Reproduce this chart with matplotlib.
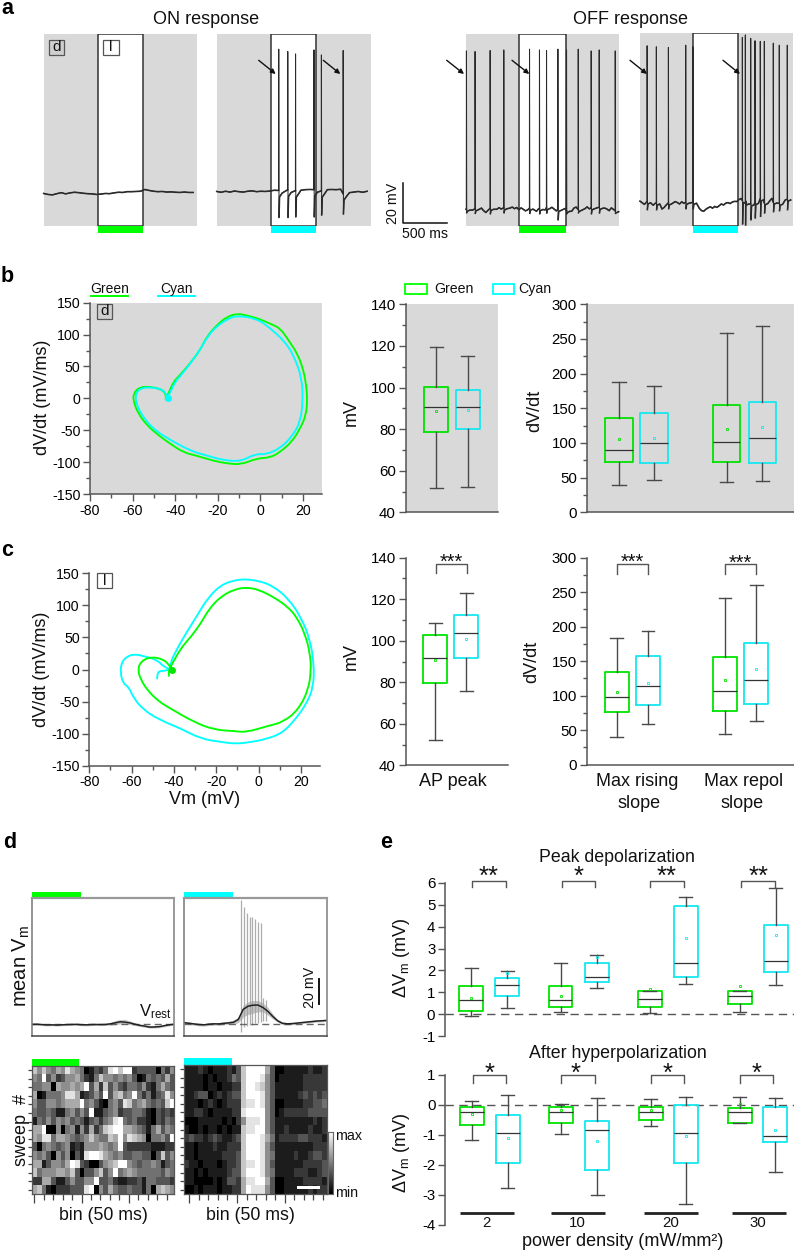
import numpy as np
import matplotlib
matplotlib.use("Agg")
import matplotlib.pyplot as plt
from matplotlib.patches import Rectangle, PathPatch
from matplotlib.path import Path

plt.rcParams['font.family'] = ['Liberation Sans', 'DejaVu Sans']
plt.rcParams['mathtext.default'] = 'regular'
plt.rcParams['axes.unicode_minus'] = False

W, H = 794, 1250
GRAY = '#d9d9d9'
GREEN = '#00e400'
CYAN = '#14e8f0'
BAR_GREEN = '#00ff00'
BAR_CYAN = '#00ffff'
SPINE = '#555555'

# ============================================================
# Panel a: traces (mV above panel floor, 25 or 50 ms steps)
# ============================================================
a1_base = [16.1, 15.6, 15.4, 16, 16.5, 15.9, 16.4, 16.7, 16.5, 16.2, 16, 15.9, 15.6, 15.8, 16.1, 16, 16.4, 16.7,
           16.6, 17, 17, 17.1, 17.2, 18.1, 17.6, 17.2, 17, 17.1, 16.8, 16.9, 16.7, 16.6, 16.8, 16.6, 16.6]
a2_base = [17.1, 16.7, 17.2, 16.8, 17.3, 17, 16.8, 17.2, 17.4, 17, 17.2, 17.1, 17.3, 17.7, 17.6, 17.4, 17.9, 17.5,
           17.5, 17.7, 18, 18.1, 18, 18, 17.4, 18, 18.1, 18, 18.2, 16, 16.5, 16.8, 17.1, 16.7, 17.2]
a3_base = [8.2, 7.6, 8.6, 7.8, 8.4, 7.1, 7.9, 8.8, 7.5, 6.6,
           7.7, 8.6, 7.9, 8.5, 8.2, 9.0, 8.3, 8.9, 8.6, 9.2,
           8.8, 9.3, 8.5, 9.1, 8.0, 8.9, 8.2, 7.4, 7.9, 8.7,
           7.6, 8.3, 7.2, 8.5, 8.9, 8.2, 7.9, 9.0, 8.4, 9.2,
           8.3, 7.4, 8.1, 6.6, 7.3, 8.6, 7.6, 8.9, 7.2, 8.8,
           9.3, 8.1, 8.7, 7.3, 8.5, 9.4, 8.4, 8.9, 7.9, 8.6,
           9.1, 8.2, 7.4, 8.8, 8.3, 7.5, 8.9, 8.1, 7.4, 8.0]
a4_base = [12.2, 11.4, 10.6, 11.8, 10.4, 9.6, 10.2, 11.2, 10.1, 9.2, 8.3, 9.1, 10.4, 11.3, 11.9, 11.2, 12, 11.5,
           10.8, 11.9, 11.1, 11.6, 10.9, 11.8, 11.6, 10.5, 9.4, 8.6, 7.5, 7.2, 8.2, 8.9, 9.4, 8.7, 9.6, 9.1,
           9.9, 10.8, 10.3, 11.2, 11.5, 11, 11.8, 12.1, 12, 13, 13.5, 12.6, 11.2, 12.4, 10.8, 12.8, 11.5, 13.1,
           11.9, 13.3, 12.2, 11.4, 13, 12.3, 13.6, 11.7, 12.6, 11.1, 12.2, 10.9, 12.7, 13.2, 12.1, 13.4]

a2_spike_t = [700, 802, 890, 1098, 1182, 1428]
a2_spike_top = [88.2, 87, 85.8, 87.8, 85.3, 87.5]
a2_spike_bot = [4.2, 4.2, 4.5, 4.5, 5.4, 5.9]
a3_spike_t = [4, 102, 273, 428, 720, 833, 913, 1042, 1140, 1273, 1420, 1511, 1693]
a3_spike_top = [87.3, 87, 87.5, 87.8, 88.2, 87.8, 87.5, 88.2, 87.8, 88.2, 87.3, 87.8, 87.3]
a3_spike_bot = [6.5, 6.2, 6, 6.5, 6.2, 6, 6.4, 3, 6, 6.5, 6, 6.4, 6.2]
a4_spike_t = [80, 185, 322, 519, 602, 1163, 1197, 1258, 1307, 1367, 1413, 1515, 1583, 1674]
a4_spike_top = [89.5, 89, 88.7, 89.8, 89, 93.7, 94.9, 93.2, 92, 91.7, 91.7, 90.8, 89.8, 89.8]
a4_spike_bot = [8, 8, 8.5, 8.5, 8.5, 0.9, 0.4, 3, 3.9, 4.7, 6.4, 7, 7.5, 8]

# ============================================================
# Phase plots: Vm (mV), dV/dt (mV/ms)
# ============================================================
b_green_v = [-44.4, -43.1, -40.8, -38.4, -32.9, -28.2, -25.1, -20.4, -15.7, -10.7, -6.3, -0.8, 4.7, 9.4, 13.3, 17.3,
             20.1, 21.6, 22.1, 21.5, 18.8, 14.9, 9.4, 4.7, -1.6, -9.1, -15.7, -22, -29.8, -36, -42.4, -47.8, -53.3,
             -57.3, -59.6, -59.6, -56.5, -51.8, -47, -44.4, -44.4]
b_green_dv = [0, 7.8, 26, 34, 55, 76, 97, 115, 128, 133, 130, 125, 117, 110, 91, 71, 47, 21, -3, -26, -47, -68, -84,
              -93, -94, -104, -102, -98, -90, -85, -71, -58, -42, -24, -5, 8, 18, 18, 15, 8, -3]
b_cyan_v = [-44, -42.5, -40, -38, -33, -28.5, -25, -20.5, -15.5, -11, -1.6, 4.7, 11, 15.7, 19.6, 20, 18.8, 14.9, 9.4,
            3, -2.4, -9.1, -17.3, -25, -33, -42.4, -48.6, -53.3, -56.5, -58.5, -58.5, -55.7, -50, -45.5, -44, -44]
b_cyan_dv = [0, 8, 26, 33, 54, 75, 96, 113, 124, 130, 125, 110, 91, 68, 31, -5, -37, -60, -78, -88, -87, -99, -97,
             -90, -82, -65, -52, -37, -21, -5, 8, 17, 17, 13, 5, -3]
c_cyan_v = [-48, -47.6, -44, -41.6, -41.6, -38.4, -34.4, -28.9, -24.1, -17.8, -11.4, -6.7, 0.5, 6.8, 14, 20.3, 24.3,
            26.2, 25.9, 22.7, 17.1, 10.8, 2.9, -3.5, -10.6, -17.8, -27.3, -36.8, -47.1, -54.3, -59, -61.4, -64,
            -65.4, -64.6, -62.2, -59, -54.3, -47.9, -44.8, -41.6]
c_cyan_dv = [-15, -2.6, -2, 0.5, 12, 33, 56, 85, 111, 132, 139, 141, 138, 130, 111, 80, 46, 9, -27, -53, -79, -100,
             -109, -113, -116, -113, -108, -92, -78, -63, -45, -27, -22, -4, 12, 20, 24, 21, 15, 4, 0.5]
c_green_v = [-42.4, -42.4, -40.8, -36.8, -32, -27.3, -23.3, -17.8, -11.4, -5.9, -0.3, 7.6, 14, 17.9, 21.9, 24.3, 24.8,
             23.5, 18.7, 11.6, 4.4, -5.9, -11.4, -21, -30.5, -41.6, -47.1, -52.7, -55.9, -57, -55.9, -51.1, -44.8,
             -41.6, -40.8]
c_green_dv = [-11, 0, 9, 33, 51, 72, 95, 114, 125, 128, 125, 112, 97, 82, 56, 25, -1, -32, -63, -82, -88, -98, -96,
              -94, -82, -61, -50, -32, -14, -1, 12, 20, 16, 4, 0]

# ============================================================
# Box values: low whisker, q1, median, q3, high whisker, mean
# ============================================================
b_peak_green = [[51.5, 78.5, 90.5, 100.4, 119.6, 88.5]]
b_peak_cyan = [[52, 79.9, 90.5, 98.7, 115.3, 89]]
b_slope_green = [[39.4, 73, 90.4, 136, 188.5, 105.8], [43, 72, 101, 155, 259, 120.7]]
b_slope_cyan = [[47, 71.6, 99.5, 142.8, 182, 106.7], [45, 71, 107.7, 159.6, 268.8, 122.6]]
c_peak_green = [[52, 79.8, 91.8, 102.9, 108.4, 90.6]]
c_peak_cyan = [[75.6, 91.5, 103.9, 112.6, 122.8, 100.7]]
c_slope_green = [[40.6, 75.8, 97.6, 135, 184, 104.8], [44.4, 77.8, 106.3, 156.5, 242, 123.2]]
c_slope_cyan = [[58.5, 86, 113.5, 157.5, 194, 117.9], [62.8, 87.4, 122.2, 176.8, 260, 138.6]]
e_peak_green = [[-0.09, 0.15, 0.66, 1.3, 2.13, 0.76], [0.11, 0.34, 0.66, 1.31, 2.33, 0.84],
                [0.05, 0.34, 0.7, 1.07, 1.08, 1.13], [0.11, 0.46, 0.81, 1.07, 1.08, 1.3]]
e_peak_cyan = [[0.29, 0.81, 1.34, 1.66, 1.97, 1.89], [1.2, 1.45, 1.72, 2.33, 2.7, 2.62],
               [1.36, 1.68, 2.35, 4.97, 5.37, 3.5], [1.34, 1.94, 2.44, 4.07, 5.75, 3.64]]
e_ahp_green = [[-1.16, -0.66, -0.25, -0.07, 0.11, -0.3], [-0.96, -0.62, -0.25, -0.07, 0.01, -0.18],
               [-0.69, -0.52, -0.25, -0.07, 0.19, -0.16], [-0.61, -0.61, -0.23, -0.1, 0.27, 0.02]]
e_ahp_cyan = [[-2.78, -1.93, -0.93, -0.33, 0.32, -1.12], [-3.01, -2.17, -0.83, -0.55, 0.24, -1.2],
              [-3.3, -1.95, -0.95, 0, 0.27, -1.03], [-2.24, -1.23, -1.03, -0.06, 0.22, -0.83]]
power_labels = ['2', '10', '20', '30']

# ============================================================
# Panel d: mean Vm (mV, 50 ms bins) and sweep heatmaps (0-9)
# ============================================================
d1_mean = [9.2, 9.3, 9.0, 8.7, 8.8, 8.6, 8.8, 9.0, 9.1, 9.2, 8.9, 8.8, 9.0, 9.1, 9.0, 9.1, 9.6, 10.4, 11.2, 10.9,
           10.3, 9.3, 8.4, 7.8, 7.0, 7.1, 7.4, 8.1, 8.8, 9.3]
d1_upper = [10.0, 9.8, 9.5, 9.4, 9.4, 9.3, 9.3, 9.7, 9.9, 9.8, 9.6, 9.5, 9.9, 9.7, 9.6, 9.9, 10.7, 12.2, 13, 13.1,
            11.8, 10.3, 9.3, 8.8, 8.2, 8.4, 8.3, 8.8, 9.5, 10]
d1_lower = [8.5, 8.6, 8.2, 8, 8.1, 7.9, 8.1, 8.2, 8.4, 8.4, 8.2, 8, 8.2, 8.3, 8.3, 8.3, 8.5, 9, 9.6, 9.4,
            9, 8.3, 7.5, 7, 6.3, 6.3, 6.5, 7.3, 8, 8.6]
d2_mean = [10.5, 10, 9.5, 9, 8.8, 9.3, 9.6, 9.5, 10, 10.3, 10.8, 13, 21, 23.5, 24.3, 24.4, 22.5, 19.5, 15.5, 12,
           10, 9.6, 9.8, 10.2, 10.6, 11, 11.4, 11.8, 12, 12.3]
d2_upper = [11.5, 11, 10.5, 10, 9.8, 10.3, 10.6, 10.5, 11, 11.6, 12.5, 15, 24, 27, 28, 28, 26, 22.5, 17.5, 13,
            11, 10.5, 10.6, 11, 11.4, 11.8, 12.2, 12.6, 12.8, 13]
d2_lower = [9.5, 9, 8.5, 8, 7.8, 8.3, 8.6, 8.5, 9, 9.2, 9.5, 10.5, 15, 17, 18, 19, 19, 16.5, 13.5, 11,
            9, 8.7, 9, 9.4, 9.8, 10.2, 10.6, 11, 11.2, 11.6]
d2_spike_t = [582, 609, 637, 664, 694, 722, 749, 776, 805, 835]
d2_spike_top = [107, 102, 96.6, 93.4, 93.4, 91.9, 90, 88.7, 30, 28]
d2_spike_bot = [3, 7, 8, 9, 9, 10, 10, 11, 12, 12]
v_rest = 9.8

heat_green = ["757546586540132489799233330425", "549352355642147554545301434363",
              "445506556569362735324435214643", "601444588612353936745942413485",
              "533554566694531045387456434379", "433431145353911345233443103232",
              "143535453431342458943422103243", "669005045152624789966543146354",
              "658846654345754476958765044539", "304543451215556545932222211122",
              "545305350318998654533443303735", "661355469832003567995434454134",
              "745556657303357359456544444354", "226631135335593342112231443332",
              "674102223338905364334331406765"]
heat_cyan = ["111210111213799996300111112112", "111101011243799985301111122222",
             "111101101122799875311111122222", "112330121233799985311111232323",
             "111012101222788985300111122334", "112210111122899995301222223333",
             "000111110102588895311111111212", "100101101011788995311211112112",
             "232212321123799986412222332221", "110111211222799985311111111222",
             "110111112223799985411112112332", "211011101223788985311111122223",
             "110101111233799985411112221123", "110000101332688996300111122221",
             "001011101122698885300111112122"]


def px_axes(x0, y0, x1, y1):
    return fig.add_axes([x0 / W, 1 - y1 / H, (x1 - x0) / W, (y1 - y0) / H])


def with_spikes(base, step, spike_t, tops, bots, ahp):
    # put the spikes on a baseline, with a small after-dip behind each one
    t = np.arange(len(base)) * step
    v = np.array(base, dtype=float)
    keep = np.ones(len(t), bool)
    for s in spike_t:
        keep &= ~((t > s) & (t < s + 60))
    ts, vs = list(t[keep]), list(v[keep])
    for s, top, bot in zip(spike_t, tops, bots):
        level = v[np.argmin(np.abs(t - s))]
        ts += [s - 0.5, s + 1, s + 4, s + 10, s + 40]
        vs += [level, top, bot, level - ahp, level - ahp * 0.4]
    order = np.argsort(ts)
    return np.array(ts)[order], np.array(vs)[order]


def trace_panel(x0, y0, x1, y1, light, bar_color, t, v):
    ax = px_axes(x0, y0, x1, y1)
    ax.set_xlim(0, 1740)
    ax.set_ylim(0, 96)
    ax.axis('off')
    ax.axvspan(0, 1740, color=GRAY, lw=0, zorder=0)
    ax.axvspan(light[0], light[1], facecolor='white', edgecolor='#333333', lw=1.1, zorder=1)
    ax.axvspan(light[0], light[1], ymin=-0.04, ymax=0, color=bar_color, lw=0, clip_on=False, zorder=1)
    ax.plot(t, v, color='#2a2a2a', lw=0.75, zorder=3, clip_on=False)
    ax.plot(t, np.ma.masked_greater(v, 40), color='#2a2a2a', lw=1.15, zorder=3, clip_on=False)
    return ax


def style_axes(ax, ymajor, yminor, fs):
    for side in ['top', 'right']:
        ax.spines[side].set_visible(False)
    for side in ['left', 'bottom']:
        ax.spines[side].set_color(SPINE)
        ax.spines[side].set_linewidth(1.1)
    ax.set_yticks(ymajor)
    if yminor is not None:
        ax.set_yticks(yminor, minor=True)
    ax.tick_params(axis='y', which='major', length=5, width=1, color=SPINE, labelsize=fs, pad=2)
    ax.tick_params(axis='y', which='minor', length=3, width=1, color=SPINE)
    ax.set_xticks([])


def loop_patch(v, dv, col):
    # rounded loop: the read points act as quadratic control points
    pts = np.column_stack([v, dv])
    mids = (pts[:-1] + pts[1:]) / 2
    verts = [pts[0]]
    codes = [Path.MOVETO]
    for ctrl, end in zip(pts[:-1], mids):
        verts += [ctrl, end]
        codes += [Path.CURVE3, Path.CURVE3]
    verts.append(pts[-1])
    codes.append(Path.LINETO)
    return PathPatch(Path(verts, codes), fill=False, edgecolor=col, lw=1.35)


def phase_panel(box, gray_bg, curves, dots):
    ax = px_axes(*box)
    ax.set_xlim(-80, 29)
    ax.set_ylim(-150, 150)
    style_axes(ax, np.arange(-150, 151, 50), np.arange(-125, 150, 50), 10.2)
    ax.set_xticks(np.arange(-80, 21, 20))
    ax.set_xticks(np.arange(-70, 30, 20), minor=True)
    ax.tick_params(axis='x', which='major', length=5, width=1, color=SPINE, labelsize=10.2, pad=2)
    ax.tick_params(axis='x', which='minor', length=3, width=1, color=SPINE)
    if gray_bg:
        ax.set_facecolor(GRAY)
    else:
        ax.patch.set_alpha(0)
    for v, dv, col in curves:
        ax.add_patch(loop_patch(v, dv, col))
    for v, dv, col in dots:
        ax.plot(v, dv, 'o', color=col, ms=5, mew=0)
    return ax


def draw_boxes(ax, values, positions, width, color, cap):
    stats = [dict(whislo=r[0], q1=r[1], med=r[2], q3=r[3], whishi=r[4], mean=r[5], fliers=[]) for r in values]
    ax.bxp(stats, positions=positions, widths=width, showfliers=False, showmeans=True, manage_ticks=False,
           capwidths=cap,
           boxprops=dict(color=color, lw=1.3),
           medianprops=dict(color='#333333', lw=0.9),
           whiskerprops=dict(color='#4a4a4a', lw=1.0),
           capprops=dict(color='#4a4a4a', lw=1.0),
           meanprops=dict(marker='s', ms=2.0, mfc='none', mec=color, mew=0.6))


def box_panel(box, xlim, ylim, ymajor, yminor, gray_bg):
    ax = px_axes(*box)
    ax.set_xlim(*xlim)
    ax.set_ylim(*ylim)
    style_axes(ax, ymajor, yminor, 10.8)
    if gray_bg:
        ax.set_facecolor(GRAY)
    else:
        ax.patch.set_alpha(0)
    return ax


def bracket(ax, x0, x1, y_top, y_bot):
    ax.plot([x0, x0, x1, x1], [y_bot, y_top, y_top, y_bot], color='#555555', lw=1.0, clip_on=False)


fig = plt.figure(figsize=(W / 100, H / 100), dpi=100)

# ---- panel a
t1 = np.arange(len(a1_base)) * 50
trace_panel(43.7, 33.5, 196.7, 225.7, (614, 1125), BAR_GREEN, t1, np.array(a1_base))
t2, v2 = with_spikes(a2_base, 50, a2_spike_t, a2_spike_top, a2_spike_bot, 3.2)
trace_panel(216.7, 33.5, 370.7, 225.7, (614, 1125), BAR_CYAN, t2, v2)
t3, v3 = with_spikes(a3_base, 25, a3_spike_t, a3_spike_top, a3_spike_bot, 1.0)
trace_panel(466, 33.5, 619.3, 225.7, (606, 1130), BAR_GREEN, t3, v3)
t4, v4 = with_spikes(a4_base, 25, a4_spike_t, a4_spike_top, a4_spike_bot, 1.0)
trace_panel(640, 32.7, 793, 225.7, (602, 1118), BAR_CYAN, t4, v4)

# ---- panels b, c phase plots
phase_panel((90, 302.7, 322, 494), True,
            [(b_green_v, b_green_dv, BAR_GREEN), (b_cyan_v, b_cyan_dv, BAR_CYAN)],
            [(-43.5, 0, BAR_CYAN)])
phase_panel((89.3, 573.3, 320, 765.7), False,
            [(c_cyan_v, c_cyan_dv, BAR_CYAN), (c_green_v, c_green_dv, BAR_GREEN)],
            [(-41, 0, GREEN)])

# ---- panels b, c boxes
ax = box_panel((405.7, 304.3, 497.7, 512.3), (0.02, 2.96), (40, 140), np.arange(40, 141, 20), np.arange(50, 140, 20), True)
draw_boxes(ax, b_peak_green, [1], 0.77, GREEN, 0.4)
draw_boxes(ax, b_peak_cyan, [2], 0.77, CYAN, 0.4)

ax = box_panel((586.7, 304.3, 794, 512.3), (0.076, 6), (0, 300), np.arange(0, 301, 50), np.arange(25, 300, 50), True)
draw_boxes(ax, b_slope_green, [1, 4.08], 0.78, GREEN, 0.38)
draw_boxes(ax, b_slope_cyan, [2, 5.09], 0.78, CYAN, 0.38)

ax = box_panel((405.7, 557.7, 507.7, 765.3), (0.043, 3.33), (40, 140), np.arange(40, 141, 20), np.arange(50, 140, 20), False)
draw_boxes(ax, c_peak_green, [1], 0.77, GREEN, 0.4)
draw_boxes(ax, c_peak_cyan, [2], 0.77, CYAN, 0.4)
bracket(ax, 1.02, 2.02, 136.8, 132.5)

ax = box_panel((586.7, 557.7, 794, 764.7), (0.043, 6.66), (0, 300), np.arange(0, 301, 50), np.arange(25, 300, 50), False)
draw_boxes(ax, c_slope_green, [1, 4.457], 0.77, GREEN, 0.4)
draw_boxes(ax, c_slope_cyan, [2, 5.457], 0.77, CYAN, 0.4)
bracket(ax, 1, 2, 290.8, 277)
bracket(ax, 4.457, 5.457, 290.8, 277)

# ---- panel d mean traces
t_bins = np.arange(30) * 50
for box, mean, up, lo, bar in [((32.3, 897.7, 174, 1036), d1_mean, d1_upper, d1_lower, BAR_GREEN),
                               ((184.3, 897.7, 326.7, 1036), d2_mean, d2_upper, d2_lower, BAR_CYAN)]:
    ax = px_axes(*box)
    ax.set_xlim(0, 1450)
    ax.set_ylim(0, 109)
    ax.set_xticks([])
    ax.set_yticks([])
    ax.spines['top'].set(color='#999999', linewidth=1.6)
    ax.spines['right'].set(color='#888888', linewidth=1.2)
    ax.spines['left'].set(color='#777777', linewidth=1.1)
    ax.spines['bottom'].set(color='#444444', linewidth=1.1)
    ax.axvspan(0, 500, ymin=1, ymax=1.044, color=bar, lw=0, clip_on=False)
    ax.fill_between(t_bins, lo, up, color='#c4c4c4', lw=0)
    if mean is d2_mean:
        ax.vlines(d2_spike_t, d2_spike_bot, d2_spike_top, color='#9e9e9e', lw=0.9, alpha=0.85)
    ax.axhline(v_rest, color='#666666', lw=1.0, ls=(0, (5, 3)))
    ax.plot(t_bins, mean, color='#222222', lw=1.1)

# ---- panel d heatmaps
for box, rows, offset, bar in [((31.7, 1066, 174, 1194.3), heat_green, 0, BAR_GREEN),
                               ((184.3, 1065, 327.3, 1194), heat_cyan, 0.55, BAR_CYAN)]:
    ax = px_axes(*box)
    img = np.array([[int(c) for c in r] for r in rows])
    ax.imshow(img, cmap='gray', vmin=0, vmax=9, aspect='auto', interpolation='nearest')
    for s in ax.spines.values():
        s.set(color='#555555', linewidth=0.9)
    ax.set_xticks(np.arange(0, 21, 10) + offset)
    ax.set_xticks(np.arange(0, 29, 2) + offset, minor=True)
    ax.set_yticks(np.arange(15))
    ax.tick_params(axis='x', which='major', length=6.5, width=0.9, color='#444444', labelbottom=False)
    ax.tick_params(axis='x', which='minor', length=4.2, width=0.9, color='#444444')
    ax.tick_params(axis='y', length=3, width=0.9, color='#444444', labelleft=False)
    ax.axvspan(-0.5, 9.5, ymin=1, ymax=1.055, color=bar, lw=0, clip_on=False)

cbar_ax = px_axes(328.3, 1131.7, 332.7, 1194.3)
cbar_ax.imshow(np.linspace(1, 0, 64)[:, None], cmap='gray', aspect='auto')
cbar_ax.set_xticks([])
cbar_ax.set_yticks([])
for s in cbar_ax.spines.values():
    s.set(color='#666666', linewidth=0.8)

# ---- panel e
e_top_pos_g = [1, 3.48, 5.96, 8.45]
e_top_pos_c = [2, 4.48, 6.96, 9.45]
ax = box_panel((445, 883, 794, 1036), (0.27, 9.96), (-1, 6), np.arange(-1, 7), None, False)
ax.spines['bottom'].set_visible(False)
ax.axhline(0, color='#555555', lw=1.0, ls=(0, (6, 4)))
draw_boxes(ax, e_peak_green, e_top_pos_g, 0.66, GREEN, 0.36)
draw_boxes(ax, e_peak_cyan, e_top_pos_c, 0.66, CYAN, 0.36)
for x0, x1 in [(1.02, 1.95), (3.51, 4.44), (5.95, 6.9), (8.5, 9.44)]:
    bracket(ax, x0, x1, 6.1, 5.82)

e_low_pos_g = [1, 3.48, 5.96, 8.44]
e_low_pos_c = [2, 4.48, 6.94, 9.42]
ax = box_panel((445.3, 1074.7, 794, 1225), (0.26, 9.94), (-4, 1), np.arange(-4, 2), None, False)
ax.spines['bottom'].set_visible(False)
ax.axhline(0, color='#555555', lw=1.0, ls=(0, (6, 4)))
draw_boxes(ax, e_ahp_green, e_low_pos_g, 0.66, GREEN, 0.36)
draw_boxes(ax, e_ahp_cyan, e_low_pos_c, 0.66, CYAN, 0.36)
for x0, x1 in [(1.02, 1.94), (3.46, 4.41), (5.96, 6.9), (8.44, 9.37)]:
    bracket(ax, x0, x1, 0.99, 0.74)
for x0, x1 in [(0.667, 2.167), (3.19, 4.69), (5.77, 7.27), (8.22, 9.72)]:
    ax.plot([x0, x1], [-3.6, -3.6], color='#222222', lw=2.0, solid_capstyle='butt')

# ============================================================
# Overlay in pixel coordinates: labels, boxes, arrows, scale bars
# ============================================================
ov = fig.add_axes([0, 0, 1, 1], zorder=20)
ov.set_xlim(0, W)
ov.set_ylim(H, 0)
ov.axis('off')


def label(x, y, s, size=12.8, **kw):
    kw.setdefault('color', '#111111')
    ov.text(x, y, s, fontsize=size, ha=kw.pop('ha', 'center'), va=kw.pop('va', 'center'), **kw)


def stars(x, y, s, size):
    # asterisks sit high in the em box, so place them by baseline
    ov.text(x, y + 0.47 * size * 100 / 72, s, fontsize=size, ha='center', va='baseline', color='#111111')


def tag(x0, y0, x1, y1, s, fill):
    ov.add_patch(Rectangle((x0, y0), x1 - x0, y1 - y0, facecolor=fill, edgecolor='#555555', lw=0.9))
    label((x0 + x1) / 2, (y0 + y1) / 2, s, 11)


for x, y, s in [(1, 8, 'a'), (1, 277, 'b'), (1, 550, 'c'), (3, 842, 'd'), (380, 842, 'e')]:
    label(x, y, s, 15.5, ha='left', fontweight='bold', color='black')

label(206, 20, 'ON response', 13)
label(630.7, 20, 'OFF response', 13)

tag(48.7, 40, 64.3, 54.7, 'd', '#cfcfcf')
tag(102.7, 40, 118.7, 54.7, 'l', 'white')
tag(96.7, 303.7, 111.7, 319, 'd', '#cfcfcf')
tag(96.7, 573, 112.3, 588.3, 'l', 'white')

for x0, x1 in [(258.7, 275.7), (323.3, 340.3), (446.7, 464), (512, 529.3), (630, 647), (723, 740)]:
    ov.annotate('', xy=(x1, 74), xytext=(x0, 60.3),
                arrowprops=dict(arrowstyle='-|>', color='#111111', lw=1.0, mutation_scale=7, shrinkA=0, shrinkB=0))

ov.plot([403.3, 403.3, 447.3], [183, 223.3, 223.3], color='#111111', lw=1.1)
label(393, 203, '20 mV', 10.3, rotation=90)
label(425.3, 233.5, '500 ms', 10.2)

# panel b legends
label(109.5, 289, 'Green', 10)
ov.plot([90.7, 128], [295.7, 295.7], color=BAR_GREEN, lw=1.4)
label(176.5, 289, 'Cyan', 10)
ov.plot([158, 194.7], [295.7, 295.7], color=BAR_CYAN, lw=1.4)
ov.add_patch(Rectangle((405, 284), 21.7, 9.7, facecolor='none', edgecolor=BAR_GREEN, lw=1.3))
label(434, 289, 'Green', 10.2, ha='left')
ov.add_patch(Rectangle((492.7, 284), 21.3, 9.7, facecolor='none', edgecolor=BAR_CYAN, lw=1.3))
label(518.7, 289, 'Cyan', 10.2, ha='left')

label(42.7, 397, 'dV/dt (mV/ms)', 13, rotation=90)
label(41.7, 669, 'dV/dt (mV/ms)', 13, rotation=90)
label(205, 799, 'Vm (mV)', 13)
label(351.7, 413, 'mV', 13, rotation=90)
label(351.7, 656.7, 'mV', 13, rotation=90)
label(534.3, 410.7, 'dV/dt', 13, rotation=90)
label(531.7, 661.7, 'dV/dt', 13, rotation=90)

label(453, 781.7, 'AP peak', 13)
label(636.7, 781.7, 'Max rising', 13)
label(639, 803, 'slope', 13)
label(744, 781.7, 'Max repol', 13)
label(742, 803, 'slope', 13)

stars(451.7, 558.3, '***', 14.4)
stars(632.3, 558.3, '***', 14.4)
stars(740.7, 559, '***', 14.4)
for x, s in zip([488.7, 578.3, 666.7, 758.3], ['**', '*', '**', '**']):
    stars(x, 871.7, s, 18.5)
for x in [489.3, 575.3, 667.3, 756.7]:
    stars(x, 1068.3, '*', 18.5)

# panel d text
label(21.7, 966, 'mean V$_{m}$', 14.5, rotation=90)
label(155.7, 1012, 'V$_{rest}$', 12)
ov.plot([319, 319], [979, 1004.3], color='#111111', lw=1.4)
label(310, 987, '20 mV', 10.3, rotation=90)
label(21.7, 1130, 'sweep  #', 13, rotation=90)
label(103, 1215.7, 'bin (50 ms)', 12.8)
label(250, 1215.7, 'bin (50 ms)', 12.8)
label(335.5, 1136, 'max', 10.3, ha='left')
label(335.5, 1192.7, 'min', 10.3, ha='left')
ov.add_patch(Rectangle((296.7, 1186), 23.3, 3, facecolor='white', edgecolor='none'))

# panel e text
label(402, 958, 'ΔV$_{m}$ (mV)', 13, rotation=90)
label(402, 1153, 'ΔV$_{m}$ (mV)', 13, rotation=90)
label(616.7, 857.3, 'Peak depolarization', 12.8)
label(618, 1053.3, 'After hyperpolarization', 12.8)
for x, s in zip([486.7, 577.7, 670.7, 758.3], power_labels):
    label(x, 1222.7, s, 10.8)
label(622.7, 1241.7, 'power density (mW/mm²)', 13)

fig.savefig('out.png', dpi=100)
